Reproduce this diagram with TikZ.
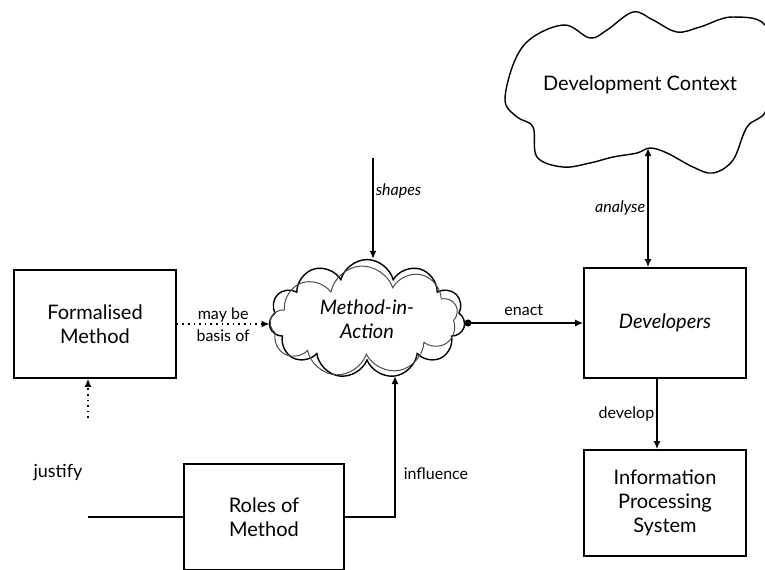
\documentclass[tikz,border=0pt]{standalone}
\usepackage{fontspec}
\setmainfont{Lato}
\usetikzlibrary{arrows.meta,shapes.symbols}
\tikzset{
	box/.style={draw, line width=0.8pt, align=center, minimum width=81pt},
	lbl/.style={font=\footnotesize\itshape, inner sep=1pt},
	con/.style={line width=0.8pt, -{Latex[length=4pt,width=3.5pt]}},
}
\begin{document}
\begin{tikzpicture}[x=0.5pt, y=-0.5pt]
			\useasboundingbox (0, 0) rectangle (765, 569);
			\node[box, minimum height=54pt] (fm) at (95, 324) {Formalised\\Method};
			\node[box, minimum height=55pt] (dev) at (665, 323) {\itshape Developers};
			\node[box, minimum height=53pt] (ips) at (665, 503) {Information\\Processing\\System};
			\node[box, minimum width=80pt, minimum height=53pt] (rom) at (264, 517) {Roles of\\Method};
			\node[cloud, cloud puffs=11, aspect=1.7, draw, line width=0.7pt, minimum width=98pt, minimum height=58pt, align=center, font=\itshape] (mia) at (367, 319) {Method-in-\\Action};
			\node[cloud, cloud puffs=9, aspect=1.7, draw=black!70, line width=0.5pt, minimum width=94pt, minimum height=55pt, rotate=4] (mia2) at (364, 321) {};
			\draw[line width=0.7pt, smooth cycle, tension=0.6] plot coordinates {(505, 100) (515, 60) (533, 37) (565, 25) (590, 38) (607, 30) (633, 12) (653, 20) (677, 32) (700, 27) (733, 17) (768, 30) (768, 105) (747, 127) (733, 160) (713, 173) (693, 167) (667, 153) (650, 148) (637, 153) (613, 157) (590, 163) (563, 167) (537, 157) (533, 127) (517, 117)};
			\node (dc) at (640, 85) {Development Context};
			\coordinate (dcb) at (648, 148);
			\coordinate (shp) at (373, 158);
			\coordinate (fmd) at (88, 418);
			\coordinate (jst) at (88, 517);
			\coordinate (inf) at (395, 376);
			\coordinate (dvb) at (657, 378);
			\node[font=\small, inner sep=1pt] (just) at (58, 473) {justify};
			\draw[con] (shp) -- (shp |- mia.north) node[lbl, pos=0.33, anchor=west] (shpl) {shapes};
			\draw[con, {Latex[length=4pt,width=3.5pt]}-{Latex[length=4pt,width=3.5pt]}] (dcb) -- (dcb |- dev.north) node[lbl, midway, anchor=east] (anl) {analyse};
			\draw[con, dotted] (fm.east) -- (mia.west |- fm.east) node[midway, above=-3pt, font=\footnotesize] (mb) {may be} node[midway, below=-1pt, font=\footnotesize] (bo) {basis of};
			\draw[con, {Circle[length=3.5pt]}-{Latex[length=4pt,width=3.5pt]}] (mia.east |- dev.west) -- (dev.west) node[midway, above, font=\footnotesize] (ena) {enact};
			\draw[con] (dvb) -- (dvb |- ips.north) node[midway, anchor=east, font=\footnotesize, inner sep=1pt] (dvl) {develop};
			\draw[con, dotted] (fmd) -- (fmd |- fm.south);
			\draw[line width=0.8pt] (jst) -- (rom.west);
			\draw[con] (rom.east) -| (inf) node[lbl, pos=0.655, anchor=west, xshift=3pt, font=\footnotesize\upshape] (infl) {influence};
\end{tikzpicture}
\end{document}
